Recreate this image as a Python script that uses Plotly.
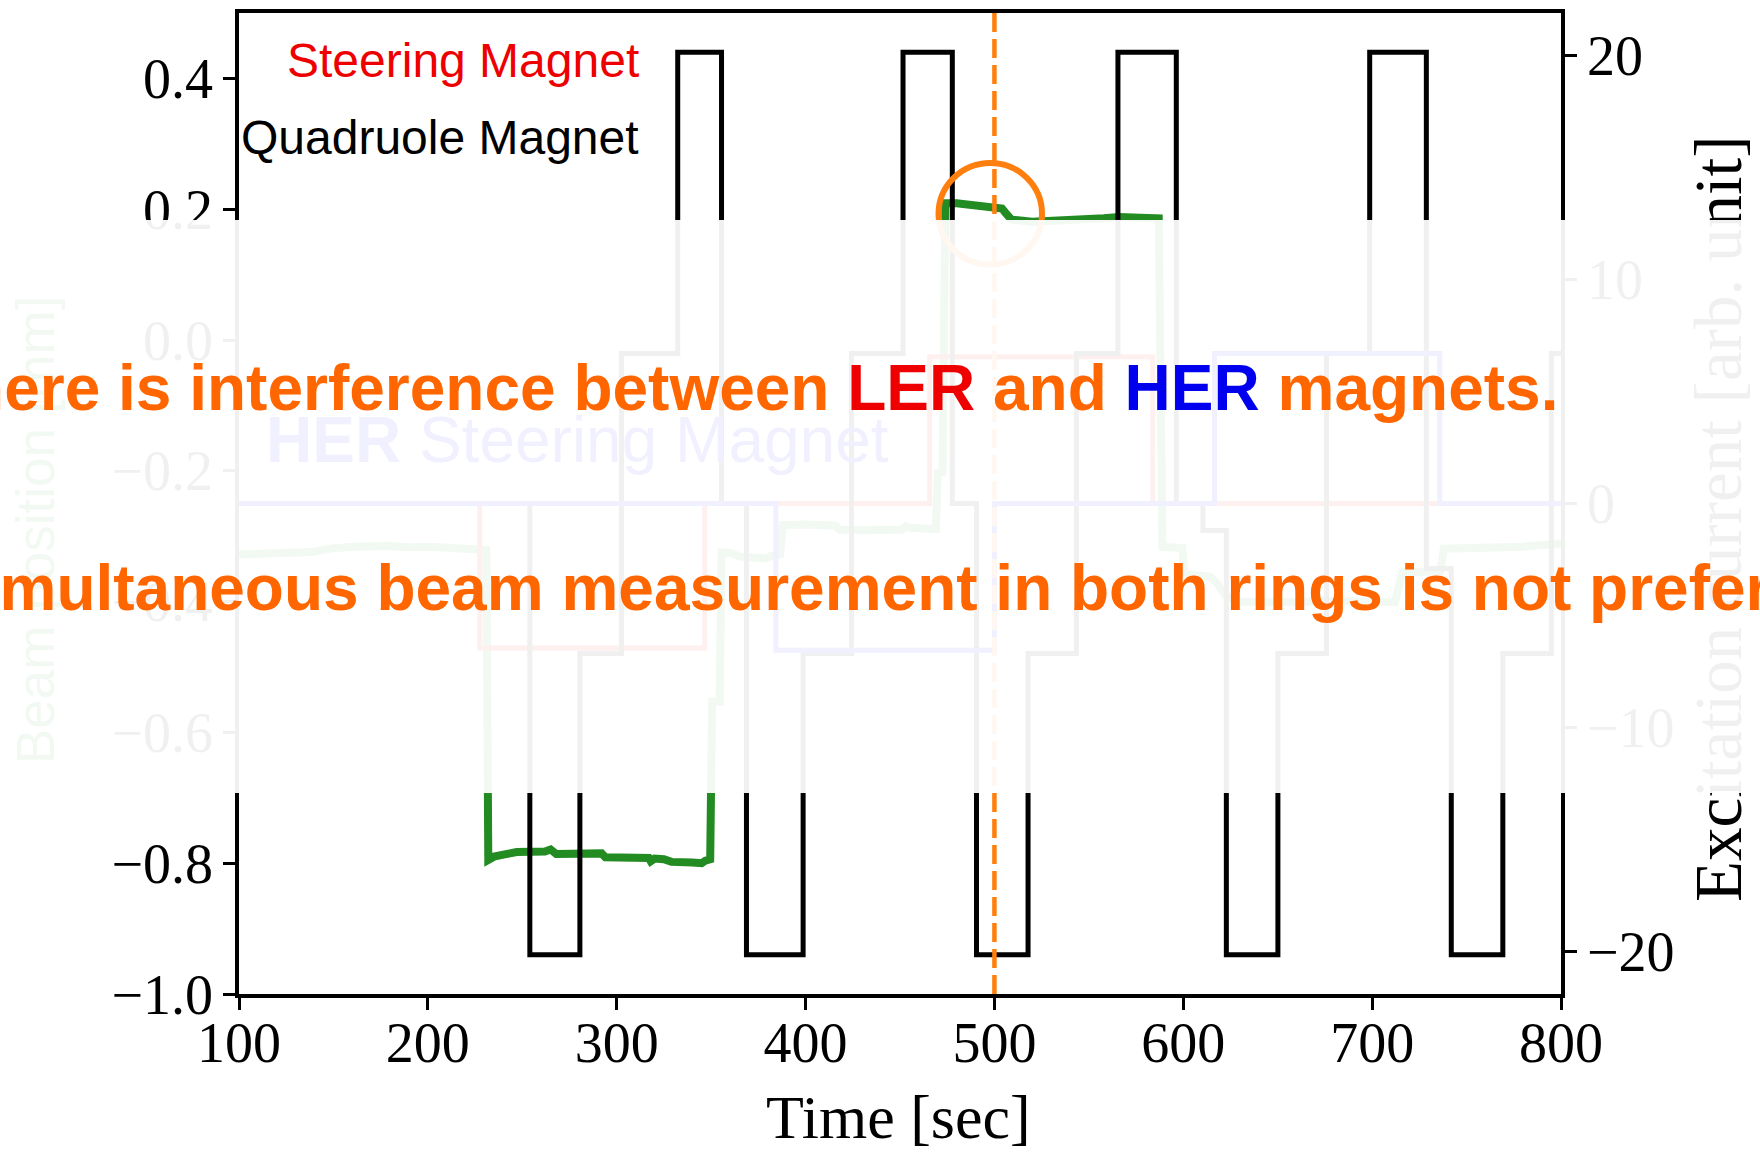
import plotly.graph_objects as go

# ---------------- data ----------------
# Beam position [mm] (left axis)
beam_time = [100, 112, 125, 139, 148, 160, 180, 190, 201, 210, 219, 227, 231,
             232, 235, 240, 247, 262, 265, 268, 277, 283, 292, 294, 305, 317, 318, 320, 325, 329, 340, 345, 347, 349.5,
             350.5, 354.5,
             355.5, 361, 365, 379, 382, 386.5,
             388, 400, 416, 418, 430, 451, 453, 455, 469,
             470, 472.5,
             474, 480, 486, 492, 499, 504, 506, 509, 520, 532, 545, 558, 566, 575, 587,
             589, 599.5,
             600.5, 608, 614, 618, 622, 628, 650, 680, 712,
             716, 736,
             738, 760, 780, 800]
beam_pos = [-0.328, -0.327, -0.325, -0.324, -0.319, -0.316, -0.315, -0.317, -0.316, -0.318, -0.319, -0.320, -0.321,
            -0.795, -0.790, -0.787, -0.783, -0.782, -0.779, -0.786, -0.786, -0.783, -0.785, -0.791, -0.792, -0.792,
            -0.797, -0.793, -0.794, -0.798, -0.799, -0.800, -0.796, -0.794,
            -0.553, -0.553,
            -0.325, -0.326, -0.331, -0.334, -0.330, -0.328,
            -0.283, -0.282, -0.284, -0.290, -0.291, -0.290, -0.285, -0.287, -0.289,
            -0.203, -0.202,
            0.209, 0.209, 0.207, 0.206, 0.203, 0.201, 0.194, 0.184, 0.181, 0.182, 0.183, 0.186, 0.188, 0.187, 0.186,
            -0.316, -0.318,
            -0.357, -0.359, -0.362, -0.372, -0.390, -0.400, -0.401, -0.399, -0.401,
            -0.355, -0.354,
            -0.319, -0.318, -0.316, -0.311]

# LER steering magnet excitation (right axis, step changes)
ler_time = [100, 227.5, 346.6, 465.7, 583.8, 800]
ler_val = [0, -6.45, 0, 6.55, 0, 0]

# HER steering magnet excitation (right axis, step changes)
her_time = [100, 384.3, 500.0, 616.5, 735.8, 800]
her_val = [0, -6.55, 0, 6.7, 0, 0]

# Quadrupole magnet excitation (right axis, step changes)
quad_time = [100, 254.0, 280.5, 302.5, 332.3, 355.5, 368.7, 398.7, 424.3, 451.6, 477.7, 490.5, 517.8,
             543.4, 565.4, 596.3, 610.4, 622.8, 650.1, 675.8, 698.7, 728.7, 741.9, 769.2, 794.9, 800]
quad_val = [0, -20.15, -6.7, 6.7, 20.15, 0, -20.15, -6.7, 6.7, 20.15, 0, -20.15, -6.7,
            6.7, 20.15, 0, -1.2, -20.15, -6.7, 6.7, 20.15, -2.9, -20.15, -6.7, 6.7, 6.7]

# tick values
time_ticks = [100, 200, 300, 400, 500, 600, 700, 800]
pos_ticks = [-1.0, -0.8, -0.6, -0.4, -0.2, 0.0, 0.2, 0.4]
exc_ticks = [-20, -10, 0, 10, 20]

# marked instant and highlighted region
marker_time = 500
highlight_time, highlight_pos = 497.8, 0.193
highlight_dt, highlight_dpos = 27.4, 0.0777

# ---------------- geometry helpers ----------------
W, H = 1760, 1153
ML, MR, MT, MB = 239, 199, 13, 159
PW, PH = W - ML - MR, H - MT - MB


def px(xp):
    return (xp - ML) / PW


def py(yp):
    return (H - MB - yp) / PH


def minus(s):
    return s.replace("-", "\u2212")


SERIF = "Liberation Serif"
SANS = "Liberation Sans"
ORANGE = "#ff7f0e"

fig = go.Figure()

fig.add_trace(go.Scatter(x=beam_time, y=beam_pos, mode="lines",
                         line=dict(color="forestgreen", width=8), yaxis="y"))
fig.add_trace(go.Scatter(x=ler_time, y=ler_val, mode="lines", line_shape="hv",
                         line=dict(color="red", width=5), yaxis="y2"))
fig.add_trace(go.Scatter(x=quad_time, y=quad_val, mode="lines", line_shape="hv",
                         line=dict(color="black", width=5), yaxis="y2"))
fig.add_trace(go.Scatter(x=her_time, y=her_val, mode="lines", line_shape="hv",
                         line=dict(color="blue", width=5), yaxis="y2"))

tickfont = dict(family=SERIF, size=56, color="black")

fig.update_layout(
    width=W, height=H,
    margin=dict(l=ML, r=MR, t=MT, b=MB),
    paper_bgcolor="white", plot_bgcolor="white",
    showlegend=False,
    xaxis=dict(range=[100, 800], tickvals=time_ticks, ticktext=[str(v) for v in time_ticks],
               showline=True, linecolor="black", linewidth=3.5, mirror=True,
               ticks="outside", ticklen=12, tickwidth=3, tickcolor="black",
               tickfont=tickfont, ticklabelstandoff=-15,
               showgrid=False, zeroline=False, automargin=False),
    yaxis=dict(range=[-1.0, 0.5], tickvals=pos_ticks,
               ticktext=[minus(f"{v:.1f}") for v in pos_ticks],
               showline=True, linecolor="black", linewidth=3.5,
               ticks="outside", ticklen=12, tickwidth=3, tickcolor="black",
               tickfont=tickfont, ticklabelstandoff=-1,
               showgrid=False, zeroline=False, automargin=False),
    yaxis2=dict(range=[-21.9, 21.9], tickvals=exc_ticks,
                ticktext=[minus(str(v)) for v in exc_ticks],
                overlaying="y", side="right",
                showline=True, linecolor="black", linewidth=3.5,
                ticks="outside", ticklen=12, tickwidth=3, tickcolor="black",
                tickfont=tickfont, ticklabelstandoff=-1,
                showgrid=False, zeroline=False, automargin=False),
)

# marked instant and highlight ring (drawn over the curves)
fig.add_shape(type="line", xref="x", yref="paper", x0=marker_time, x1=marker_time, y0=1, y1=0,
              line=dict(color=ORANGE, width=4.5, dash="19px,7px"), layer="above")
fig.add_shape(type="circle", xref="x", yref="y",
              x0=highlight_time - highlight_dt, x1=highlight_time + highlight_dt,
              y0=highlight_pos - highlight_dpos, y1=highlight_pos + highlight_dpos,
              line=dict(color=ORANGE, width=6), layer="above")

anns = []


def add_text(text, x, y, size, family, color, xanchor="center", yanchor="middle", angle=0):
    anns.append(dict(text=text, x=px(x), y=py(y), xref="paper", yref="paper",
                     xanchor=xanchor, yanchor=yanchor, showarrow=False, textangle=angle,
                     borderpad=0, borderwidth=0,
                     font=dict(family=family, size=size, color=color)))


# axis titles
add_text("Beam position [mm]", 36, 530, 53, SANS, "forestgreen", angle=-90)
add_text("Excitation current [arb. unit]", 1718, 519, 67, SERIF, "black", angle=-90)
add_text("Time [sec]", 898, 1117, 62, SERIF, "black")

# magnet labels
add_text("<b>HER</b> Steering Magnet", 266, 440, 64, SANS, "blue", xanchor="left")
add_text("Steering Magnet", 638.5, 61, 48, SANS, "#ee0000", xanchor="right")
add_text("Quadruole Magnet", 638.5, 137, 48, SANS, "black", xanchor="right")

# translucent white band across the middle of the figure
anns.append(dict(text=" ", x=px(0), y=py(220), xref="paper", yref="paper",
                 xanchor="left", yanchor="top", width=W, height=793 - 220,
                 showarrow=False, borderpad=0, borderwidth=0,
                 bgcolor="rgba(255,255,255,0.94)"))

# statements written over the band
add_text("<b>There is interference between <span style='color:#ee0000'>LER</span> and "
         "<span style='color:#0000ee'>HER</span> magnets.</b>",
         -74.5, 388, 64, SANS, "#ff6600", xanchor="left")
add_text("<b>Simultaneous beam measurement in both rings is not preferred.</b>",
         -61.5, 588, 64, SANS, "#ff6600", xanchor="left")

fig.update_layout(annotations=anns)

fig.write_html("out.html")
